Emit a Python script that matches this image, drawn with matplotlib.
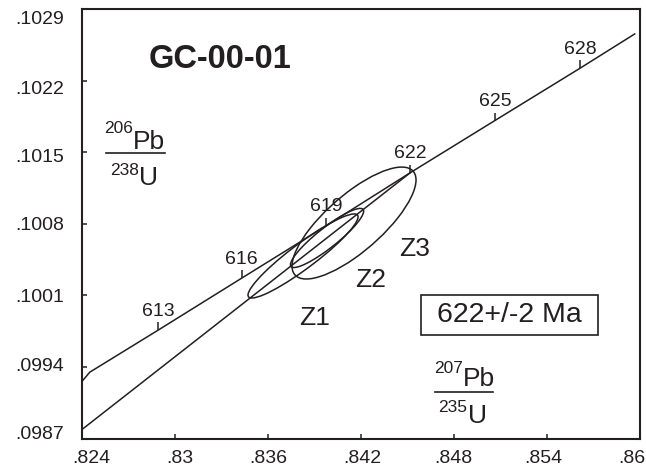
import numpy as np
import matplotlib
matplotlib.use('Agg')
import matplotlib.pyplot as plt
from matplotlib.patches import Ellipse, Rectangle
from matplotlib.lines import Line2D
from matplotlib.transforms import Affine2D, ScaledTranslation

plt.rcParams['font.family'] = ['Liberation Sans', 'DejaVu Sans']

INK = '#231f20'

# concordia ticks (age in Ma) and their 207Pb/235U, 206Pb/238U positions
conc_age = [613, 616, 619, 622, 625, 628]
conc_x = [0.82890, 0.83431, 0.83974, 0.84518, 0.85064, 0.85612]
conc_y = [0.09976, 0.10027, 0.10078, 0.10130, 0.10181, 0.10232]

# concordia curve as drawn, frame to frame
curve_x = [0.8240, 0.8245, 0.82890, 0.83431, 0.83974, 0.84518, 0.85064, 0.85612, 0.8597]
curve_y = [0.09926, 0.09935, 0.09976, 0.10027, 0.10078, 0.10130, 0.10181, 0.10232, 0.10266]

# discordia through the zircons to the upper intercept
disc_x = [0.8240, 0.84518]
disc_y = [0.09879, 0.10130]

# zircon error ellipses: centre, half widths, error correlation
zircons = ['Z1', 'Z2', 'Z3']
zr_x = [0.83826, 0.83981, 0.84155]
zr_y = [0.100486, 0.100662, 0.100808]
zr_sx = [0.00355, 0.00236, 0.00400]
zr_sy = [0.000411, 0.000289, 0.000547]
zr_rho = [0.93, 0.905, 0.77]

xticks = [0.824, 0.830, 0.836, 0.842, 0.848, 0.854, 0.860]
xtick_labels = ['.824', '.83', '.836', '.842', '.848', '.854', '.86']
yticks = [0.0987, 0.0994, 0.1001, 0.1008, 0.1015, 0.1022, 0.1029]
ytick_labels = ['.0987', '.0994', '.1001', '.1008', '.1015', '.1022', '.1029']

sample = 'GC-00-01'
age_text = '622+/-2 Ma'

fig = plt.figure(figsize=(6.46, 4.74), dpi=100)
ax = fig.add_axes([82 / 646, 35.3 / 474, 558 / 646, 429.7 / 474])
ax.set_xlim(xticks[0], xticks[-1])
ax.set_ylim(yticks[0], yticks[-1])

# concordia with age ticks
ax.plot(curve_x, curve_y, color=INK, lw=1.1, solid_capstyle='butt')
ax.plot(conc_x, conc_y, ls='none', marker=2, ms=5.8, mew=1.1, color=INK)
for a, x, y in zip(conc_age, conc_x, conc_y):
    ax.annotate(str(a), (x, y), xytext=(0, 13.7), textcoords='offset points',
                ha='center', va='center', fontsize=14, color=INK)

ax.plot(disc_x, disc_y, color=INK, lw=1.1)

# error ellipses
for x, y, sx, sy, r in zip(zr_x, zr_y, zr_sx, zr_sy, zr_rho):
    m = Affine2D(np.array([[sx, 0, x], [sy * r, sy * np.sqrt(1 - r * r), y], [0, 0, 1]]))
    ax.add_patch(Ellipse((0, 0), 2, 2, fill=False, ec=INK, lw=1.1,
                         transform=m + ax.transData))

zr_lab = [(0.839, 0.09988), (0.84265, 0.10025), (0.84548, 0.10055)]
for name, (lx, ly) in zip(zircons, zr_lab):
    ax.text(lx, ly, name, ha='center', va='center', fontsize=19, color=INK)

ax.text(0.2473, 0.8836, sample, transform=ax.transAxes, ha='center', va='center',
        fontsize=23.5, fontweight='bold', color=INK)

# age box
ax.add_patch(Rectangle((0.6075, 0.2413), 0.3172, 0.0931, transform=ax.transAxes,
                       fill=False, ec=INK, lw=1.2))
ax.text(0.7661, 0.2879, age_text, transform=ax.transAxes, ha='center', va='center',
        fontsize=20.5, color=INK)

# axis ratio labels
def ratio(num_sup, num, den_sup, den, sx_num, sx_den, y_sup, y_num, y_bar, y_dsup, y_den, bar):
    kw = dict(transform=ax.transAxes, va='baseline', color=INK)
    ax.text(sx_num, y_sup, num_sup, ha='right', fontsize=12.5, **kw)
    ax.text(sx_num, y_num, num, ha='left', fontsize=19, **kw)
    ax.add_line(Line2D(bar, [y_bar, y_bar], transform=ax.transAxes, lw=1.2, color=INK))
    ax.text(sx_den, y_dsup, den_sup, ha='right', fontsize=12.5, **kw)
    ax.text(sx_den, y_den, den, ha='left', fontsize=19, **kw)

ratio('206', 'Pb', '238', 'U', 0.0914, 0.1013, 0.7114, 0.674, 0.6647, 0.6137, 0.5904, [0.043, 0.1487])
ratio('207', 'Pb', '235', 'U', 0.6819, 0.6909, 0.1529, 0.1226, 0.1087, 0.0621, 0.0365, [0.6326, 0.7366])

ax.set_xticks(xticks)
ax.set_xticklabels(xtick_labels)
ax.set_yticks(yticks)
ax.set_yticklabels(ytick_labels)
ax.tick_params(direction='in', length=3.5, width=1.1, colors=INK, labelsize=14)
ax.tick_params(axis='x', pad=8.0)
ax.tick_params(axis='y', pad=13.0)
for s in ax.spines.values():
    s.set_linewidth(1.5)
    s.set_color(INK)

# the printed labels drift a little from their ticks; nudge them (pixels)
x_nudge = [9, 5, 0, 1, -1, -4, -8]
y_nudge = [6, 2.5, 0, 0, -3, -7, -8]
for lab, d in zip(ax.get_xticklabels(), x_nudge):
    lab.set_transform(lab.get_transform() + ScaledTranslation(d / 100, 0, fig.dpi_scale_trans))
for lab, d in zip(ax.get_yticklabels(), y_nudge):
    lab.set_transform(lab.get_transform() + ScaledTranslation(0, d / 100, fig.dpi_scale_trans))

fig.savefig('out.png', dpi=100)
